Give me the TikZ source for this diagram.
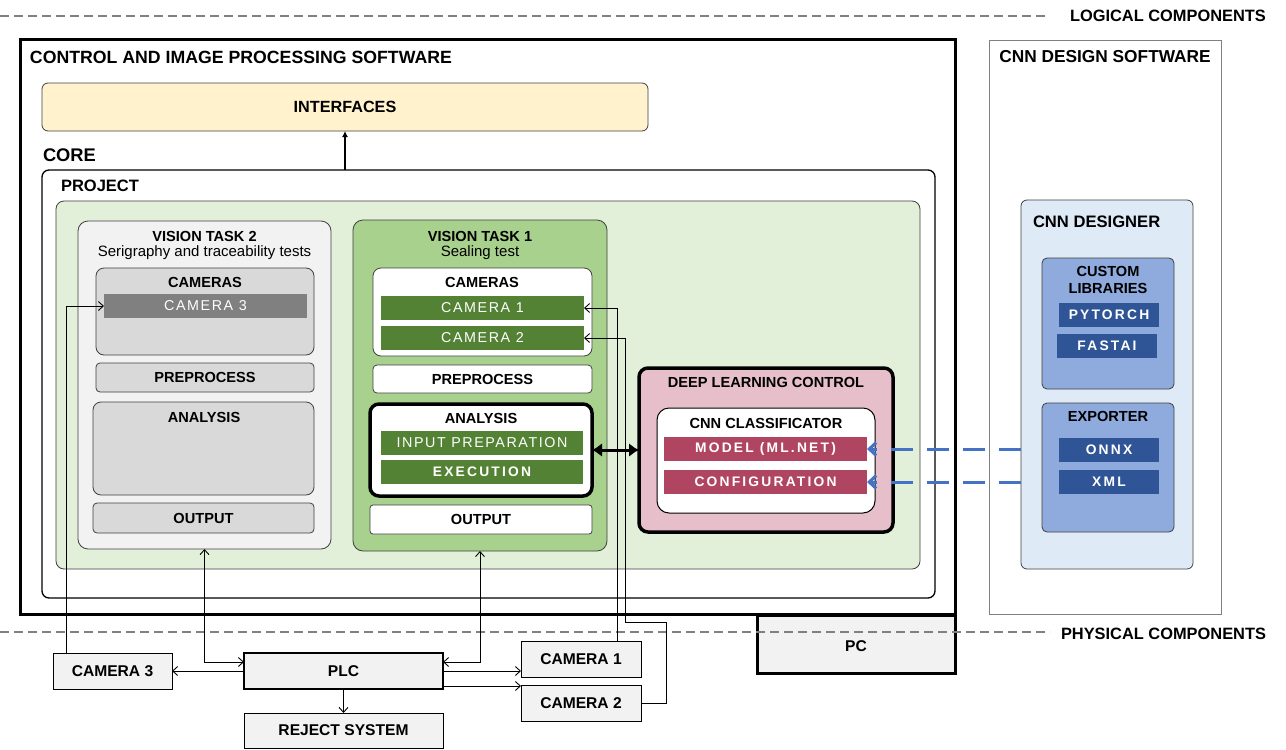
\documentclass[tikz,border=0pt]{standalone}
\usepackage{fontspec}
\setmainfont{Liberation Sans}
\usetikzlibrary{arrows.meta}
\definecolor{cyel}{HTML}{FFF2CC}
\definecolor{cgrnl}{HTML}{E2F0D9}
\definecolor{cgrnm}{HTML}{A9D18E}
\definecolor{cgrnd}{HTML}{548235}
\definecolor{cgr1}{HTML}{F2F2F2}
\definecolor{cgr2}{HTML}{D9D9D9}
\definecolor{cgr3}{HTML}{808080}
\definecolor{cpink}{HTML}{E6BFCB}
\definecolor{cred}{HTML}{B04561}
\definecolor{cbl1}{HTML}{DEEBF7}
\definecolor{cbl2}{HTML}{8FAADC}
\definecolor{cbl3}{HTML}{2F5597}
\definecolor{cbla}{HTML}{4472C4}
\definecolor{cedge}{HTML}{404040}
\newcommand{\ls}[1]{{\addfontfeature{LetterSpace=16}#1}}
\newcommand{\lr}[1]{{\addfontfeature{LetterSpace=11}#1}}
\newcommand{\bx}[7]{\node[#1,minimum width={#4-#2},minimum height={#5-#3}] (#6) at ({(#2+#4)/2},{(#3+#5)/2}) {#7};}
\tikzset{
  every node/.style={inner sep=0pt, outer sep=0pt},
  box/.style={draw=cedge, line width=0.8pt, rectangle},
  hd/.style={font=\fontsize{17.3}{20}\selectfont\bfseries},
  side/.style={font=\fontsize{16.4}{19}\selectfont\bfseries},
  lb/.style={font=\fontsize{14.6}{17}\selectfont\bfseries},
  sub/.style={font=\fontsize{15}{17}\selectfont},
  wbar/.style={text=white, font=\fontsize{14.3}{16}\selectfont},
  wbold/.style={text=white, font=\fontsize{13.8}{16}\selectfont\bfseries},
  phys/.style={draw=black, fill=cgr1, line width=1pt, font=\fontsize{15.6}{18}\selectfont\bfseries},
  conn/.style={draw=black, line width=0.9pt},
  bluearr/.style={draw=cbla, line width=3pt, dash pattern=on 22pt off 14pt, -{Straight Barb[length=7pt,width=13pt]}},
  sepl/.style={draw=cgr3, line width=1.5pt, dash pattern=on 9pt off 5pt},
}
\begin{document}
\begin{tikzpicture}[x=1pt,y=-1pt,>={Straight Barb[length=5pt,width=9pt]}]
\useasboundingbox (0,0) rectangle (1286,750);
% main software
\bx{draw=black,line width=3pt}{20}{39}{955}{614}{main}{}
\node[font=\fontsize{17.7}{20}\selectfont\bfseries,anchor=west] (maint) at (30,57) {CONTROL AND IMAGE PROCESSING SOFTWARE};
\bx{box,fill=cyel,rounded corners=6pt,font=\fontsize{16.2}{19}\selectfont\bfseries}{42}{83}{648}{131}{intf}{INTERFACES}
\node[font=\fontsize{18.3}{21}\selectfont\bfseries,anchor=west] (core) at (43,155) {CORE};
\bx{draw=black,line width=1.3pt,fill=white,rounded corners=7pt}{42}{170}{935}{598}{proj}{}
\node[font=\fontsize{16.5}{19}\selectfont\bfseries,anchor=west] (projt) at (61,186) {PROJECT};
\bx{box,fill=cgrnl,rounded corners=8pt}{56}{201}{920}{569}{green}{}
% vision task 2
\bx{box,fill=cgr1,rounded corners=10pt}{78}{221}{331}{549}{vt2}{}
\node[lb] (vt2t) at (204.5,236) {VISION TASK 2};
\node[sub] (vt2s) at (204.5,253) {Serigraphy and traceability tests};
\bx{box,fill=cgr2,rounded corners=8pt}{96}{268}{314}{355}{cams2}{}
\node[lb] (cams2t) at (205,282) {CAMERAS};
\bx{fill=cgr3,wbar}{104}{294}{307}{318}{cam3b}{\lr{CAMERA 3}}
\bx{box,fill=cgr2,rounded corners=4pt,lb}{96}{363}{314}{392}{pre2}{PREPROCESS}
\bx{box,fill=cgr2,rounded corners=8pt}{93}{402}{314}{495}{ana2}{}
\node[lb] (ana2t) at (204,417) {ANALYSIS};
\bx{box,fill=cgr2,rounded corners=4pt,lb}{93}{503}{314}{533}{out2}{OUTPUT}
% vision task 1
\bx{box,fill=cgrnm,rounded corners=10pt}{353}{220}{607}{551}{vt1}{}
\node[lb] (vt1t) at (480,236) {VISION TASK 1};
\node[sub] (vt1s) at (480,253) {Sealing test};
\bx{box,fill=white,rounded corners=8pt}{373}{268}{592}{356}{cams1}{}
\node[lb] (cams1t) at (482,282) {CAMERAS};
\bx{fill=cgrnd,wbar}{381}{296}{584}{320}{cam1b}{\lr{CAMERA 1}}
\bx{fill=cgrnd,wbar}{381}{326}{584}{350}{cam2b}{\lr{CAMERA 2}}
\bx{box,fill=white,rounded corners=4pt,lb}{373}{365}{592}{393}{pre1}{PREPROCESS}
\bx{draw=black,line width=3.5pt,fill=white,rounded corners=9pt}{370}{404}{592}{496}{ana1}{}
\node[lb] (ana1t) at (481,418) {ANALYSIS};
\bx{fill=cgrnd,wbar}{381}{431}{583}{455}{inp}{\lr{INPUT PREPARATION}}
\bx{fill=cgrnd,wbold}{381}{460}{583}{484}{exe}{\ls{EXECUTION}}
\bx{box,fill=white,rounded corners=3pt,lb}{370}{505}{592}{534}{out1}{OUTPUT}
% deep learning control
\bx{draw=black,line width=3.5pt,fill=cpink,rounded corners=9pt}{639}{368}{893}{532}{dlc}{}
\node[lb] (dlct) at (766,382) {DEEP LEARNING CONTROL};
\bx{draw=black,line width=1pt,fill=white,rounded corners=12pt}{657}{408}{875}{513}{cls}{}
\node[lb] (clst) at (766,423) {CNN CLASSIFICATOR};
\bx{fill=cred,wbold}{664}{437}{867}{461}{model}{\ls{MODEL (ML.NET)}}
\bx{fill=cred,wbold}{664}{470}{867}{494}{conf}{\ls{CONFIGURATION}}
% CNN design software
\bx{draw=cgr3,line width=1pt,fill=white}{989}{40}{1221}{614}{cnnsw}{}
\node[hd] (cnnswt) at (1105,57) {CNN DESIGN SOFTWARE};
\bx{box,fill=cbl1,rounded corners=6pt}{1021}{200}{1193}{569}{des}{}
\node[font=\fontsize{16.6}{19}\selectfont\bfseries,anchor=west] (dest) at (1033,222) {CNN DESIGNER};
\bx{box,fill=cbl2,rounded corners=5pt}{1042}{258}{1174}{389}{lib}{}
\node[lb,align=center] (libt) at (1108,280) {CUSTOM\\LIBRARIES};
\bx{fill=cbl3,wbold}{1059}{303}{1159}{327}{pyt}{\ls{PYTORCH}}
\bx{fill=cbl3,wbold}{1057}{334}{1157}{358}{fai}{\ls{FASTAI}}
\bx{box,fill=cbl2,rounded corners=5pt}{1042}{403}{1174}{532}{exp}{}
\node[lb] (expt) at (1108,416) {EXPORTER};
\bx{fill=cbl3,wbold}{1059}{438}{1159}{462}{onnx}{\ls{ONNX}}
\bx{fill=cbl3,wbold}{1059}{470}{1159}{494}{xml}{\ls{XML}}
% physical components
\bx{phys,line width=3pt}{757}{615}{955}{673}{pc}{}
\node[font=\fontsize{15.6}{18}\selectfont\bfseries] (pct) at (856,646) {PC};
\bx{phys}{53}{653}{172}{689}{c3p}{CAMERA 3}
\bx{phys,line width=2.5pt}{244}{653}{443}{689}{plc}{PLC}
\bx{phys}{244}{713}{443}{748}{rej}{REJECT SYSTEM}
\bx{phys}{521}{641}{641}{677}{c1p}{CAMERA 1}
\bx{phys}{521}{685}{641}{721}{c2p}{CAMERA 2}
% separators
\node[side,anchor=west] (logict) at (1070,16) {LOGICAL COMPONENTS};
\node[side,anchor=west] (physt) at (1061,634) {PHYSICAL COMPONENTS};
\coordinate (l0) at (0,16);
\coordinate (l1) at ([xshift=-22pt]logict.west);
\coordinate (p0) at (0,632);
\coordinate (p1) at ([xshift=-11pt]physt.west);
\draw[sepl] (l0) -- (l0 -| l1);
\draw[sepl] (p0) -- (p0 -| p1);
% connectors
\draw[line width=1.6pt,-{Latex[length=6pt,width=6pt]}] (proj.north -| intf.south) -- (intf.south);
\draw[line width=3pt,{Latex[length=10pt,width=14pt]}-{Latex[length=10pt,width=14pt]}] (ana1.east) -- (dlc.west);
\draw[bluearr] (des.west |- model.east) -- (model.east);
\draw[bluearr] (des.west |- conf.east) -- (conf.east);
\draw[conn,->] ([xshift=13pt]c3p.north west) |- (cam3b.west);
\draw[conn,->] ([xshift=-24pt]c1p.north east) |- (cam1b.east);
\coordinate (r1) at (666,622);
\coordinate (r2) at (625,622);
\draw[conn,->] (c2p.east) -| (r1) -- (r2) |- (cam2b.east);
\draw[conn,<->] (vt2.south) |- ([yshift=-9pt]plc.north west);
\draw[conn,<->] (vt1.south) |- ([yshift=-9pt]plc.north east);
\draw[conn,->] (plc.west) -- (c3p.east);
\draw[conn,->] (plc.east) -- (plc.east -| c1p.west);
\draw[conn,->] ([yshift=-15pt]plc.east) -- ([yshift=-15pt]plc.east -| c2p.west);
\draw[conn,->] (plc.south) -- (rej.north);
\end{tikzpicture}
\end{document}
